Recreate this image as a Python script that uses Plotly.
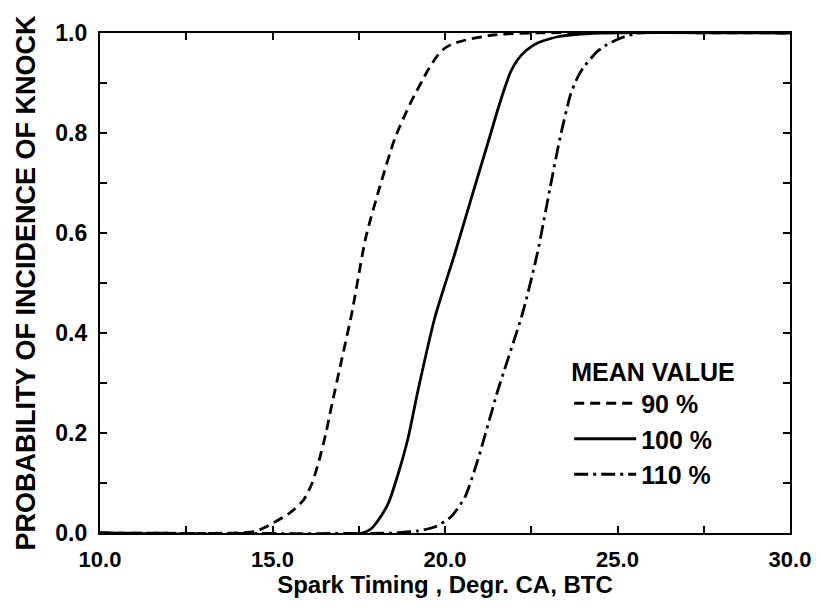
import plotly.graph_objects as go

# ---- data ----
x_90 = [10.0, 14.0, 14.5, 14.8, 15.5, 15.9, 16.15, 16.35, 16.55, 16.7, 17.0, 17.3, 17.7, 18.1, 18.55, 19.0, 19.5, 19.75, 20.0, 20.25, 20.6, 21.4, 22.5, 30.0]
p_90 = [0.0, 0.0, 0.003, 0.012, 0.04, 0.066, 0.10, 0.145, 0.20, 0.25, 0.345, 0.44, 0.59, 0.69, 0.79, 0.86, 0.925, 0.952, 0.97, 0.979, 0.986, 0.996, 1.0, 1.0]

x_100 = [10.0, 17.6, 17.85, 18.07, 18.36, 18.65, 18.93, 19.22, 19.71, 20.29, 20.86, 21.33, 21.5, 21.73, 21.9, 22.1, 22.35, 22.68, 23.3, 24.5, 30.0]
p_100 = [0.0, 0.0, 0.008, 0.026, 0.06, 0.12, 0.19, 0.286, 0.432, 0.56, 0.692, 0.80, 0.84, 0.89, 0.922, 0.946, 0.965, 0.98, 0.993, 1.0, 1.0]

x_110 = [10.0, 18.5, 19.2, 19.7, 20.17, 20.58, 20.95, 21.24, 21.53, 22.25, 22.68, 23.05, 23.34, 23.63, 23.8, 24.0, 24.4, 24.7, 25.1, 25.6, 30.0]
p_110 = [0.0, 0.0, 0.004, 0.012, 0.032, 0.072, 0.146, 0.215, 0.285, 0.44, 0.56, 0.692, 0.792, 0.875, 0.905, 0.93, 0.962, 0.977, 0.99, 1.0, 1.0]

series_names = ["90 %", "100 %", "110 %"]
x_ticks = [10, 15, 20, 25, 30]
y_ticks = [0.0, 0.2, 0.4, 0.6, 0.8, 1.0]

FONT = "Arial, Liberation Sans, sans-serif"

fig = go.Figure()
styles = [dict(dash="10px,6px"), dict(dash="solid"), dict(dash="14px,5px,3px,5px")]
for i, (xs, ps) in enumerate([(x_90, p_90), (x_100, p_100), (x_110, p_110)]):
    fig.add_trace(go.Scatter(
        x=xs, y=ps, mode="lines", name=series_names[i],
        line=dict(color="black", width=2.8, shape="spline", smoothing=0.6, **styles[i]),
    ))

axis_common = dict(
    showline=True, linecolor="black", linewidth=2.2, mirror="ticks",
    ticks="inside", ticklen=7, tickwidth=1.5, tickcolor="black",
    showgrid=False, zeroline=False, ticklabeloverflow="allow",
)

fig.update_xaxes(
    range=[10, 30], tickvals=x_ticks, tickformat=".1f",
    minor=dict(dtick=2.5, ticks="inside", ticklen=7, tickcolor="black", tickwidth=1.5),
    title=dict(text="Spark Timing , Degr. CA, BTC", standoff=6,
               font=dict(family=FONT, size=24, color="black", weight="bold")),
    tickfont=dict(family=FONT, size=22, color="black", weight="bold"),
    ticklabelstandoff=5,
    **axis_common,
)
fig.update_yaxes(
    range=[0, 1], tickvals=y_ticks, tickformat=".1f",
    minor=dict(dtick=0.1, ticks="inside", ticklen=7, tickcolor="black", tickwidth=1.5),
    title=dict(text="PROBABILITY OF INCIDENCE OF KNOCK", standoff=12,
               font=dict(family=FONT, size=27, color="black", weight="bold")),
    tickfont=dict(family=FONT, size=23, color="black", weight="bold"),
    ticklabelstandoff=6,
    **axis_common,
)

fig.update_layout(
    width=805, height=590,
    margin=dict(l=92, r=23, t=25, b=65, autoexpand=False),
    paper_bgcolor="white", plot_bgcolor="white",
    showlegend=True,
    legend=dict(
        title=dict(text="MEAN VALUE", side="top",
                   font=dict(family=FONT, size=25, color="black", weight="bold")),
        x=0.68, y=0.37, xanchor="left", yanchor="top",
        bgcolor="rgba(0,0,0,0)", borderwidth=0,
        font=dict(family=FONT, size=25, color="black", weight="bold"),
        itemwidth=62, tracegroupgap=0,
    ),
)

fig.write_html("out.html")
